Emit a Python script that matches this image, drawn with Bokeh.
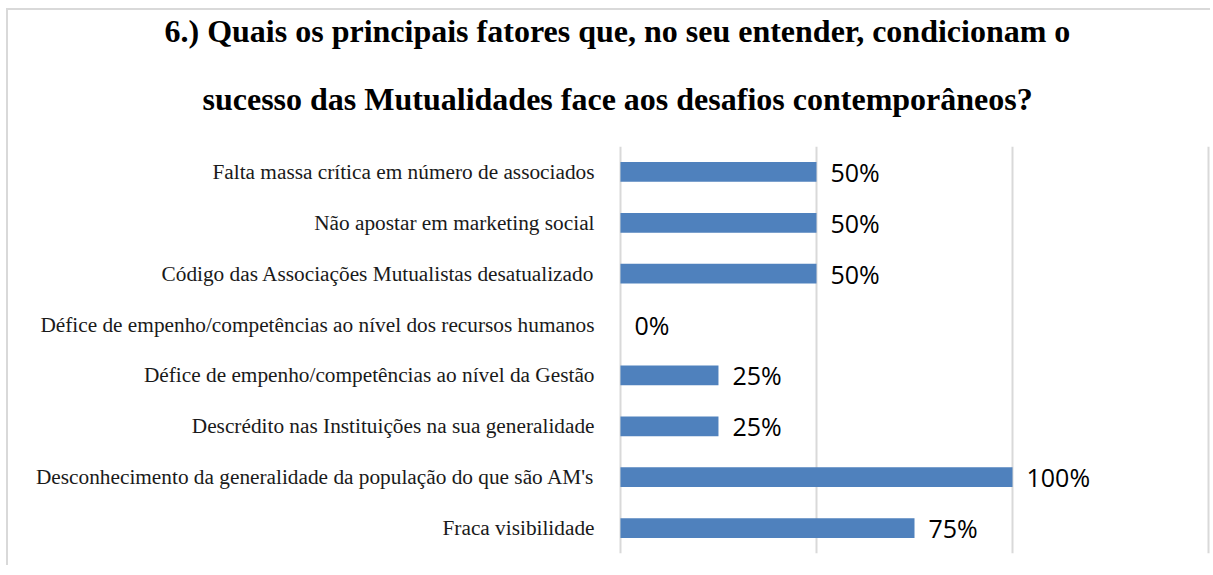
from bokeh.plotting import figure
from bokeh.models import ColumnDataSource, Title, FixedTicker
from bokeh.core.properties import value
from bokeh.embed import file_html
from bokeh.resources import INLINE

categories = [
    "Falta massa crítica em número de associados",
    "Não apostar em marketing social",
    "Código das Associações Mutualistas desatualizado",
    "Défice de empenho/competências ao nível dos recursos humanos",
    "Défice de empenho/competências ao nível da Gestão",
    "Descrédito nas Instituições na sua generalidade",
    "Desconhecimento da generalidade da população do que são AM's",
    "Fraca visibilidade",
]
values = [0.50, 0.50, 0.50, 0.0, 0.25, 0.25, 1.00, 0.75]
value_labels = ["50%", "50%", "50%", "0%", "25%", "25%", "100%", "75%"]
title_lines = [
    "6.) Quais os principais fatores que, no seu entender, condicionam o",
    "sucesso das Mutualidades face aos desafios contemporâneos?",
]
grid_ticks = [0, 0.5, 1.0, 1.5]

source = ColumnDataSource(dict(cat=categories, val=values, lab=value_labels))

p = figure(
    width=1204, height=557,
    y_range=list(reversed(categories)), x_range=(-0.005, 1.505),
    output_backend="svg", toolbar_location=None,
    min_border_left=610, min_border_right=2, min_border_top=125, min_border_bottom=14,
)
p.styles = {"margin-left": "6px", "margin-top": "8px",
            "border-left": "2px solid #d9d9d9", "border-top": "2px solid #d9d9d9"}
p.outline_line_color = None
p.background_fill_color = "white"
p.border_fill_color = "white"

p.hbar(y="cat", right="val", left=0, height=0.39, source=source,
       fill_color="#4F81BD", line_color=None)

p.text(x="val", y="cat", text="lab", source=source, x_offset=14,
       text_baseline="middle", text_align="left",
       text_font=value("Open Sans"), text_font_size="25px", text_color="black")

p.xaxis.visible = False
p.xaxis.ticker = FixedTicker(ticks=grid_ticks)
p.xgrid.ticker = FixedTicker(ticks=grid_ticks)
p.xgrid.grid_line_color = "#d9d9d9"
p.xgrid.grid_line_width = 2
p.ygrid.grid_line_color = None

ax = p.yaxis[0]
ax.axis_line_color = None
ax.major_tick_line_color = None
ax.minor_tick_line_color = None
ax.major_label_standoff = 18
ax.major_label_text_font = "Liberation Serif"
ax.major_label_text_font_size = "21.3px"
ax.major_label_text_color = "#1a1a1a"

# later-added titles stack farther from the frame
for line, offset, standoff in [(title_lines[1], -416, 60), (title_lines[0], -454, 0)]:
    p.add_layout(Title(text=line, align="left", offset=offset, standoff=standoff,
                       text_font="Liberation Serif", text_font_style="bold",
                       text_font_size="32px", text_color="black"), "above")

open("out.html", "w").write(file_html(p, INLINE))
